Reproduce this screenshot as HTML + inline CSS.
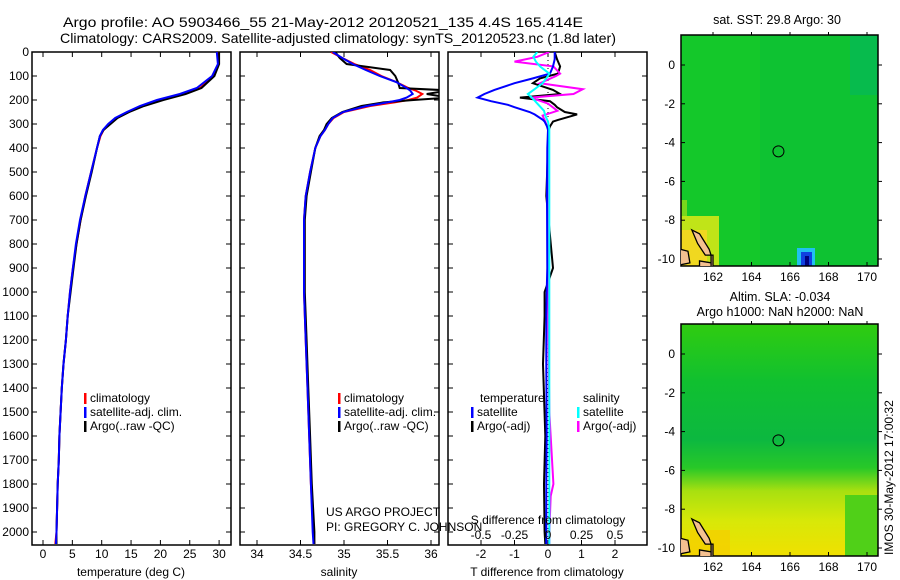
<!DOCTYPE html>
<html><head><meta charset="utf-8"><style>
html,body{margin:0;padding:0;background:#fff;}
svg{display:block;font-family:"Liberation Sans",sans-serif;}
text{font-size:12px;fill:#000;}
</style></head><body>
<svg id="fig" width="900" height="580" viewBox="0 0 900 580">
<defs>
<clipPath id="c1"><rect x="32" y="52" width="199" height="493"/></clipPath>
<clipPath id="c2"><rect x="240" y="52" width="199" height="493"/></clipPath>
<clipPath id="c3"><rect x="448" y="52" width="199" height="493"/></clipPath>
<clipPath id="m1"><rect x="681" y="35" width="197" height="231"/></clipPath>
<clipPath id="m2"><rect x="681" y="324" width="197" height="232"/></clipPath>
</defs>
<text x="63" y="27" textLength="520" lengthAdjust="spacingAndGlyphs" style="font-size:14px">Argo profile: AO 5903466_55 21-May-2012 20120521_135 4.4S 165.414E</text>
<text x="60" y="43" textLength="556" lengthAdjust="spacingAndGlyphs" style="font-size:14px">Climatology: CARS2009. Satellite-adjusted climatology: synTS_20120523.nc (1.8d later)</text>
<g id="maps"></g>
<g id="p1"></g>
<g id="p2"></g>
<g id="p3"></g>
<text x="777" y="24" text-anchor="middle" style="font-size:12.5px">sat. SST: 29.8 Argo: 30</text>
<text x="780" y="301" text-anchor="middle" style="font-size:12.5px">Altim. SLA: -0.034</text>
<text x="780" y="316" text-anchor="middle" style="font-size:12.5px">Argo h1000: NaN h2000: NaN</text>
<text transform="translate(893,555) rotate(-90)">IMOS 30-May-2012 17:00:32</text>
</svg>
<script>
// ---- data ----
const depthT = [0,50,100,150,175,200,225,250,275,300,325,350,400,500,600,700,800,900,1000,1100,1200,1300,1400,1500,1600,1700,1800,1900,2000,2050];
const tempSat = [29.6,29.8,28.8,26.2,23.3,19.4,16.5,14.3,12.3,11.1,10.2,9.7,9.2,8.2,7.2,6.3,5.6,5.1,4.6,4.2,3.9,3.5,3.2,3.0,2.8,2.7,2.5,2.4,2.3,2.2];
const tempClim = [29.9,29.9,29.0,26.8,24.0,20.2,17.0,14.6,12.5,11.3,10.3,9.8,9.2,8.2,7.2,6.4,5.7,5.1,4.6,4.2,3.9,3.5,3.2,3.0,2.8,2.7,2.5,2.4,2.3,2.1];
const tempArgo = [30.0,30.0,29.2,27.0,24.3,20.5,17.2,14.7,12.7,11.5,10.3,9.7,9.2,8.3,7.3,6.4,5.7,5.2,4.7,4.2,3.9,3.5,3.2,3.0,2.8,2.7,2.5,2.4,2.3,2.3];
const depthS = [0,25,50,75,100,125,150,160,175,190,200,210,225,250,275,300,325,350,400,500,600,700,800,1000,1200,1400,1600,1800,2000,2050];
const salSat = [34.87,34.98,35.10,35.25,35.41,35.60,35.72,35.76,35.79,35.72,35.64,35.50,35.26,34.99,34.87,34.82,34.78,34.73,34.67,34.61,34.56,34.54,34.54,34.54,34.56,34.58,34.60,34.62,34.64,34.65];
const salClim = [34.85,34.98,35.12,35.30,35.43,35.60,35.74,35.82,35.90,35.84,35.74,35.58,35.30,35.00,34.88,34.82,34.78,34.73,34.67,34.61,34.56,34.54,34.54,34.54,34.56,34.58,34.60,34.62,34.65,34.66];
const salArgo = [34.90,34.95,35.03,35.53,35.59,35.62,35.64,36.20,35.95,36.20,35.80,35.45,35.20,34.98,34.86,34.80,34.77,34.72,34.67,34.62,34.57,34.55,34.55,34.55,34.57,34.59,34.61,34.63,34.66,34.66];
const depthD = [0,30,60,90,110,130,158,175,190,205,220,230,250,260,283,290,310,325,400,600,900,1000,1100,1300,1600,1800,2000,2050];
const dTsat = [0.2,0.2,0.15,0.06,-0.45,-1.0,-1.6,-1.9,-2.1,-1.7,-1.2,-1.0,-0.55,-0.4,-0.15,-0.1,-0.03,0,-0.02,-0.03,-0.02,-0.04,-0.05,-0.05,-0.04,-0.05,-0.05,-0.05];
const dTargo = [0.2,0.27,0.36,0.3,-0.24,-0.45,0.15,0.36,-0.84,0.06,0.2,0.27,0.5,0.87,0.3,0.15,0.06,0.02,0,-0.05,0.15,-0.1,-0.1,-0.15,-0.08,-0.12,-0.1,-0.08];
const depthDS = [0,20,40,60,90,100,130,155,175,190,215,245,265,290,320,400,600,1000,1500,1800,1850,2000,2050];
const dSargo = [0.01,-0.08,-0.25,0.04,0.09,0.06,-0.06,0.26,0.19,-0.13,0,0.07,-0.04,-0.02,0,0,0,0,0.01,0.04,0.02,0.01,0.01];
const dSsat = [-0.08,-0.11,-0.09,-0.06,0.01,0.0,-0.04,-0.1,-0.15,-0.12,-0.08,-0.03,-0.02,0.0,0.01,0.01,0.01,0.01,0.01,0.01,0.01,0.01,0.01];
const depthTicks = [0,100,200,300,400,500,600,700,800,900,1000,1100,1200,1300,1400,1500,1600,1700,1800,1900,2000];
const tTicks = [0,5,10,15,20,25,30];
const sTicks = [34,34.5,35,35.5,36];
const sTickLabels = ["34","34.5","35","35.5","36"];
const dTTicks = [-2,-1,0,1,2];
const dSTicks = [-0.5,-0.25,0,0.25,0.5];
const dSTickLabels = ["-0.5","-0.25","0","0.25","0.5"];
const lonTicks = [162,164,166,168,170];
const latTicks = [0,-2,-4,-6,-8,-10];

// ---- helpers ----
const NS="http://www.w3.org/2000/svg";
function mk(tag,attrs,parent){const e=document.createElementNS(NS,tag);for(const k in attrs)e.setAttribute(k,attrs[k]);parent.appendChild(e);return e;}
const yD = d => 52 + d*0.24;
const xT = t => 43 + t*5.87;
const xS = s => 257 + (s-34)*87;
const xDT = v => 548 + v*33.5;
const xDS = v => 548 + v*134;

function frame(g,x0,x1,yt,yb){
  const r=mk('rect',{x:x0,y:yt,width:x1-x0,height:yb-yt,fill:'#fff',stroke:'#000','stroke-width':1.5},g);
  
  
}
function depthAxis(g,x0,x1,labels){
  depthTicks.forEach(d=>{
    const y=yD(d);
    mk('line',{x1:x0,y1:y,x2:x0+5,y2:y,stroke:'#000'},g);
    mk('line',{x1:x1-5,y1:y,x2:x1,y2:y,stroke:'#000'},g);
    if(labels){const t=mk('text',{x:x0-3,y:y+4,'text-anchor':'end'},g);t.textContent=d;
      
      }
  });
}
function xAxis(g,vals,labs,fx,yt,yb,ly){
  vals.forEach((v,i)=>{
    const x=fx(v);
    mk('line',{x1:x,y1:yt,x2:x,y2:yt+5,stroke:'#000'},g);
    mk('line',{x1:x,y1:yb-5,x2:x,y2:yb,stroke:'#000'},g);
    if(ly){const t=mk('text',{x:x,y:ly,'text-anchor':'middle'},g);t.textContent=labs[i];
      
      }
  });
}
function line(g,xs,ds,fx,color,clip,name){
  const pts=xs.map((v,i)=>fx(v).toFixed(1)+','+yD(ds[i]).toFixed(1)).join(' ');
  const p=mk('polyline',{points:pts,fill:'none',stroke:color,'stroke-width':2,'clip-path':'url(#'+clip+')'},g);
  
  
}
function text(g,x,y,s,name,anchor){const t=mk('text',{x:x,y:y,'text-anchor':anchor||'start'},g);t.textContent=s;
  
  return t;}
function legend(g,x,y,entries){
  entries.forEach((e,i)=>{
    const r=mk('rect',{x:x,y:y+i*14-9,width:2.5,height:11,fill:e[0]},g);
    
    
    text(g,x+6,y+i*14,e[1],'legend-entry');
  });
}

// ---- panel 1 ----
const p1=document.getElementById('p1');
frame(p1,32,231,52,545);
depthAxis(p1,32,231,true);
xAxis(p1,tTicks,tTicks.map(String),xT,52,545,558);
line(p1,tempClim,depthT,xT,'#f00','c1','temp-climatology-line');
line(p1,tempArgo,depthT,xT,'#000','c1','temp-argo-line');
line(p1,tempSat,depthT,xT,'#00f','c1','temp-satellite-line');
legend(p1,84,402,[['#f00','climatology'],['#00f','satellite-adj. clim.'],['#000','Argo(..raw -QC)']]);
text(p1,131,576,'temperature (deg C)','x-axis-title-temperature','middle');

// ---- panel 2 ----
const p2=document.getElementById('p2');
frame(p2,240,439,52,545);
depthAxis(p2,240,439,false);
xAxis(p2,sTicks,sTickLabels,xS,52,545,558);
line(p2,salClim,depthS,xS,'#f00','c2','sal-climatology-line');
line(p2,salArgo,depthS,xS,'#000','c2','sal-argo-line');
line(p2,salSat,depthS,xS,'#00f','c2','sal-satellite-line');
legend(p2,338,402,[['#f00','climatology'],['#00f','satellite-adj. clim.'],['#000','Argo(..raw -QC)']]);
text(p2,339,576,'salinity','x-axis-title-salinity','middle');

// ---- panel 3 ----
const p3=document.getElementById('p3');
frame(p3,448,647,52,545);
depthAxis(p3,448,647,false);
xAxis(p3,dTTicks,dTTicks.map(String),xDT,52,545,558);
const zl=mk('line',{x1:548,y1:52,x2:548,y2:545,stroke:'#000','stroke-dasharray':'1,3'},p3);


line(p3,dTargo,depthD,xDT,'#000','c3','dT-argo-line');
line(p3,dSargo,depthDS,xDS,'#f0f','c3','dS-argo-line');
line(p3,dTsat,depthD,xDT,'#00f','c3','dT-satellite-line');
line(p3,dSsat,depthDS,xDS,'#0ff','c3','dS-satellite-line');
text(p3,480,402,'temperature','legend-title-temperature');
text(p3,583,402,'salinity','legend-title-salinity');
legend(p3,471,416,[['#00f','satellite'],['#000','Argo(-adj)']]);
legend(p3,577,416,[['#0ff','satellite'],['#f0f','Argo(-adj)']]);
text(p3,548,524,'S difference from climatology','s-axis-title','middle');
dSTicks.forEach((v,i)=>text(p3,xDS(v),539,dSTickLabels[i],'s-tick-label','middle'));
text(p3,547,576,'T difference from climatology','x-axis-title-tdiff','middle');

// credits (drawn over panel 3)
const cr=document.getElementById('fig');
text(cr,326,516,'US ARGO PROJECT','credit-project');
text(cr,326,531,'PI: GREGORY C. JOHNSON','credit-pi');

// ---- maps ----
const maps=document.getElementById('maps');
function mapAxes(g,yt,yb,lat0){
  const lx=v=>713+(v-162)*19.25, ly=v=>lat0-v*19.4;
  const r=mk('rect',{x:681,y:yt,width:197,height:yb-yt,fill:'none',stroke:'#000','stroke-width':1.5},g);
  
  
  lonTicks.forEach(v=>{mk('line',{x1:lx(v),y1:yb,x2:lx(v),y2:yb-4,stroke:'#000'},g);mk('line',{x1:lx(v),y1:yt,x2:lx(v),y2:yt-3,stroke:'#000'},g);
    text(g,lx(v),yb+15,String(v),'lon-tick-label','middle');});
  latTicks.forEach(v=>{mk('line',{x1:681,y1:ly(v),x2:685,y2:ly(v),stroke:'#000'},g);mk('line',{x1:878,y1:ly(v),x2:882,y2:ly(v),stroke:'#000'},g);
    text(g,675,ly(v)+4,String(v),'lat-tick-label','end');});
  return [lx,ly];
}
function land(g,lx,ly,clip){
  const polys=[[[160.9,-8.5],[161.3,-8.7],[161.8,-9.5],[161.9,-9.8],[161.6,-9.8],[161.2,-9.2]],
    [[160.3,-9.5],[160.7,-9.6],[160.8,-10.2],[160.3,-10.3]],
    [[161.3,-10.1],[161.9,-10.2],[162.0,-10.5],[161.3,-10.5]],
    [[161.9,-9.8],[162.0,-9.8],[162.0,-10.5],[161.9,-10.5]]];
  polys.forEach(p=>{const e=mk('polygon',{points:p.map(q=>lx(q[0])+','+ly(q[1])).join(' '),fill:'#f4c090',stroke:'#000','stroke-width':1.3,'clip-path':'url(#'+clip+')'},g);
    
    });
}
// map 1 (SST)
const g1=mk('g',{},maps);


mk('rect',{x:681,y:35,width:197,height:231,fill:'#14c82a'},g1);
mk('rect',{x:760,y:35,width:118,height:231,fill:'#08bc3a',opacity:0.5},g1);
mk('rect',{x:850,y:35,width:28,height:60,fill:'#04b858',opacity:0.7},g1);
mk('rect',{x:681,y:200,width:6,height:20,fill:'#7ad81c'},g1);
mk('rect',{x:681,y:216,width:38,height:50,fill:'#c0e418'},g1);
mk('rect',{x:681,y:230,width:26,height:36,fill:'#f0d820'},g1);
mk('rect',{x:797,y:248,width:18,height:18,fill:'#20c0f0'},g1);
mk('rect',{x:801,y:252,width:11,height:14,fill:'#1040e0'},g1);
mk('rect',{x:805,y:256,width:4,height:10,fill:'#000080'},g1);
let [lx1,ly1]=mapAxes(g1,35,266,65);
land(g1,lx1,ly1,'m1');
const o1=mk('circle',{cx:lx1(165.4),cy:ly1(-4.45),r:5.5,fill:'none',stroke:'#000'},g1);


// map 2 (SLA)
const g2=mk('g',{},maps);


const gr=mk('linearGradient',{id:'sla',x1:0,y1:0,x2:0,y2:1},g2);
[['0','#30cc10'],['0.25','#10c030'],['0.5','#0cb840'],['0.62','#28c828'],['0.72','#a8e010'],['0.85','#d8e808'],['1','#f0e000']].forEach(s=>mk('stop',{offset:s[0],'stop-color':s[1]},gr));
mk('rect',{x:681,y:324,width:197,height:232,fill:'url(#sla)'},g2);
mk('rect',{x:845,y:495,width:33,height:61,fill:'#50d018'},g2);
mk('rect',{x:690,y:530,width:40,height:26,fill:'#f4d000',opacity:0.8},g2);
let [lx2,ly2]=mapAxes(g2,324,556,354);
land(g2,lx2,ly2,'m2');
const o2=mk('circle',{cx:lx2(165.4),cy:ly2(-4.45),r:5.5,fill:'none',stroke:'#000'},g2);


</script>
</body></html>
